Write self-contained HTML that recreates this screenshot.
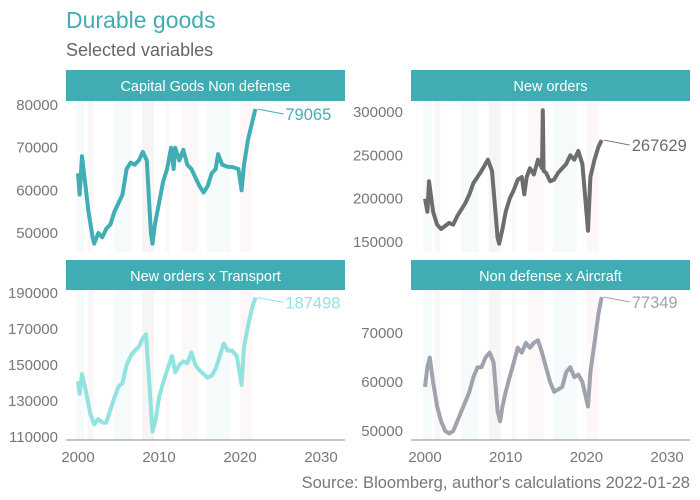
<!DOCTYPE html>
<html><head><meta charset="utf-8">
<style>
body{margin:0;background:#fff;}
svg{display:block;font-family:"Liberation Sans",sans-serif;}
</style></head>
<body>
<svg id="chart" width="700" height="500">
<text x="66" y="28" font-size="23" fill="#3fadb3">Durable goods</text>
<text x="66" y="56" font-size="18" fill="#666">Selected variables</text>
<text x="690" y="488" font-size="16.5" fill="#777" text-anchor="end">Source: Bloomberg, author's calculations 2022-01-28</text>
</svg>
<script>
const bands = [[1999.8,2000.8,'#f4fbfa'],[2001.2,2001.9,'#f8f6f6'],[2004.5,2006.6,'#f4fbfa'],[2007.9,2009.4,'#f7f4f4'],[2010.8,2011.3,'#fdf7f7'],[2012.8,2014.8,'#fdf8f8'],[2015.9,2018.8,'#f4fbfa'],[2020.0,2021.5,'#fdf7f7']];
const xTicks = [2000,2010,2020,2030];
const capT = [2000,2000.2,2000.5,2000.8,2001.3,2001.8,2002,2002.5,2003,2003.5,2004,2004.5,2005,2005.5,2006,2006.5,2007,2007.5,2008,2008.5,2009,2009.2,2009.5,2010,2010.5,2011,2011.5,2011.8,2012,2012.5,2013,2013.5,2014,2014.5,2015,2015.5,2016,2016.5,2017,2017.3,2017.8,2018.5,2019,2019.8,2020.2,2020.5,2021,2021.5,2021.9];
const capV = [64000,59000,68000,63000,55000,49000,47500,50000,49000,51000,52000,55000,57000,59000,65000,66500,66000,67000,69000,67000,50000,47500,52000,57000,62000,65000,70000,65000,70000,67000,69500,66000,65000,63000,61000,59500,61000,64000,65000,68500,66000,65500,65500,65000,60000,66000,72000,76000,79065];
const ordT = [2000,2000.3,2000.5,2001,2001.5,2002,2003,2003.5,2004,2005,2005.5,2006,2006.5,2007,2007.8,2008.3,2009,2009.2,2009.6,2010,2010.5,2011,2011.5,2012,2012.3,2012.6,2013,2013.5,2014,2014.5,2014.6,2014.7,2015,2015.5,2016,2016.5,2017,2017.5,2018,2018.5,2019,2019.5,2020.2,2020.5,2021,2021.5,2021.9];
const ordV = [200000,185000,220000,185000,170000,165000,172000,170000,180000,195000,205000,218000,225000,232000,245000,232000,155000,148000,165000,185000,200000,210000,222000,225000,205000,225000,235000,228000,245000,235000,302000,232000,230000,220000,222000,230000,235000,240000,250000,245000,255000,240000,163000,225000,245000,260000,267629];
const trnT = [2000,2000.2,2000.5,2001,2001.5,2002,2002.5,2003,2003.5,2004,2004.5,2005,2005.5,2006,2006.5,2007,2007.5,2008,2008.4,2008.8,2009.2,2009.6,2010,2010.5,2011,2011.6,2012,2012.5,2013,2013.5,2014,2014.5,2015,2016,2016.5,2017,2017.5,2018,2018.5,2019,2019.6,2020.2,2020.5,2021,2021.5,2021.9];
const trnV = [141000,134000,145000,135000,123000,117000,120000,118000,118000,125000,132000,138000,140000,150000,155000,158000,160000,165000,167000,140000,113000,120000,132000,140000,147000,155000,146000,150000,152000,151000,157000,150000,147000,143000,144000,148000,155000,162000,158000,158000,155000,139000,160000,172000,182000,187498];
const airT = [2000,2000.3,2000.6,2001,2001.5,2002,2002.5,2003,2003.5,2004,2004.5,2005,2005.5,2006,2006.5,2007,2007.5,2008,2008.5,2009,2009.3,2009.6,2010,2010.5,2011,2011.5,2012,2012.5,2013,2013.5,2014,2014.5,2015,2015.5,2016,2016.5,2017,2017.5,2018,2018.5,2019,2019.5,2020.2,2020.5,2021,2021.5,2021.9];
const airV = [59000,63000,65000,60000,55000,52000,50000,49500,50000,52000,54000,56000,58000,61000,63000,63000,65000,66000,64000,54000,52000,55000,58000,61000,64000,67000,66000,68000,67000,68000,68500,66000,63000,60000,58000,58500,59000,62000,63000,61000,61500,60000,55000,62000,68000,74000,77349];
const capTicks=[50000,60000,70000,80000], ordTicks=[150000,200000,250000,300000], trnTicks=[110000,130000,150000,170000,190000], airTicks=[50000,60000,70000];

const NS='http://www.w3.org/2000/svg', svg=document.getElementById('chart');
function mk(tag,attrs,parent){const e=document.createElementNS(NS,tag);for(const k in attrs)e.setAttribute(k,attrs[k]);(parent||svg).appendChild(e);return e;}

const panels=[
 {title:'Capital Gods Non defense',T:capT,V:capV,ticks:capTicks,color:'#40aeb4',x0:66,x1:345,st:70,pt:101,pb:252,y2000:78,ppy:8.1,vA:80000,yA:105,vB:50000,yB:233,axis:false,name:'capital-goods'},
 {title:'New orders',T:ordT,V:ordV,ticks:ordTicks,color:'#6d6d6d',x0:411,x1:690,st:70,pt:101,pb:252,y2000:425,ppy:8.07,vA:300000,yA:112,vB:150000,yB:242,axis:false,name:'new-orders'},
 {title:'New orders x Transport',T:trnT,V:trnV,ticks:trnTicks,color:'#92e3df',x0:66,x1:345,st:260,pt:290,pb:440,y2000:78,ppy:8.1,vA:190000,yA:293,vB:110000,yB:437,axis:true,name:'transport'},
 {title:'Non defense x Aircraft',T:airT,V:airV,ticks:airTicks,color:'#a0a3ad',x0:411,x1:690,st:260,pt:290,pb:440,y2000:425,ppy:8.07,vA:70000,yA:333,vB:50000,yB:431,axis:true,name:'aircraft'}
];
panels.forEach(p=>{
 const g=mk('g',{});
 
 
 const xs=t=>p.y2000+(t-2000)*p.ppy;
 const ys=v=>p.yA+(v-p.vA)*(p.yB-p.yA)/(p.vB-p.vA);
 const strip=mk('rect',{x:p.x0,y:p.st,width:p.x1-p.x0,height:p.pt-p.st,fill:'#3fadb3'},g);
 
 
 const st=mk('text',{x:(p.x0+p.x1)/2,y:p.st+21,'font-size':14.5,fill:'#fff','text-anchor':'middle'},g);st.textContent=p.title;
 
 
 bands.forEach(b=>{const r=mk('rect',{x:xs(b[0]),y:p.pt,width:xs(b[1])-xs(b[0]),height:p.pb-p.pt,fill:b[2]},g);
  
  });
 p.ticks.forEach(v=>{const t=mk('text',{x:p.x0-8,y:ys(v)+5,'font-size':15,fill:'#777','text-anchor':'end'},g);t.textContent=v;
  
  });
 if(p.axis){
  const l=mk('line',{x1:p.x0,x2:p.x1,y1:p.pb,y2:p.pb,stroke:'#888','stroke-width':1},g);
  
  
  xTicks.forEach(t=>{const e=mk('text',{x:xs(t),y:p.pb+22,'font-size':15,fill:'#777','text-anchor':'middle'},g);e.textContent=t;
   
   });
 }
 const d=p.T.map((t,i)=>(i?'L':'M')+xs(t).toFixed(1)+','+ys(p.V[i]).toFixed(1)).join('');
 const path=mk('path',{d:d,fill:'none',stroke:p.color,'stroke-width':4,'stroke-linejoin':'round'},g);
 
 
 const n=p.T.length-1, ex=xs(p.T[n]), ey=ys(p.V[n]);
 const ll=mk('line',{x1:ex+2,y1:ey,x2:ex+28,y2:ey+5,stroke:p.color,'stroke-width':1},g);
 
 
 const lab=mk('text',{x:ex+30,y:ey+11,'font-size':16.5,fill:p.color},g);lab.textContent=p.V[n];
 
 
});
</script>
</body></html>
